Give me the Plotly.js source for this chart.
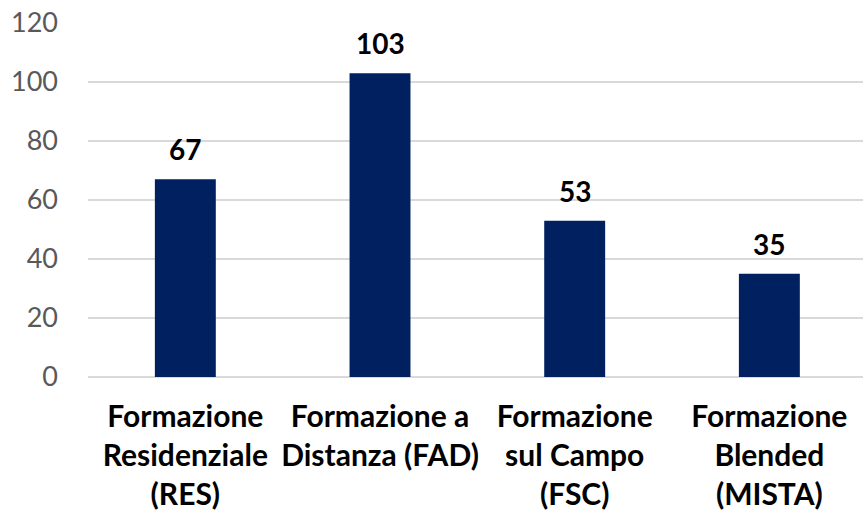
<!DOCTYPE html>
<html>
<head>
<meta charset="utf-8">
<script src="https://cdn.plot.ly/plotly-3.0.1.min.js"></script>
<style>html,body{margin:0;padding:0;background:#fff;}#chart{width:863px;height:512px;}</style>
</head>
<body>
<div id="chart"></div>
<script>
var categories = ["Formazione<br>Residenziale<br>(RES)", "Formazione a<br>Distanza (FAD)", "Formazione<br>sul Campo<br>(FSC)", "Formazione<br>Blended<br>(MISTA)"];
var values = [67, 103, 53, 35];
var yTicks = [0, 20, 40, 60, 80, 100, 120];
var xPos = [0, 1, 2, 3];

var trace = {
  type: 'bar',
  x: xPos,
  y: values,
  marker: {color: '#002060'},
  hoverinfo: 'none'
};

var annotations = values.map(function (v, i) {
  return {
    x: xPos[i], y: v, xref: 'x', yref: 'y',
    text: String(v), showarrow: false,
    xanchor: 'center', yanchor: 'bottom', yshift: 11,
    font: {family: 'Lato, sans-serif', size: 28, color: '#000', weight: 'bold'}
  };
});

var layout = {
  width: 863, height: 512,
  margin: {l: 88, r: 0, t: 23, b: 134.5},
  paper_bgcolor: '#fff', plot_bgcolor: '#fff',
  bargap: 0.687,
  showlegend: false,
  font: {family: 'Lato, sans-serif'},
  annotations: annotations,
  xaxis: {
    range: [-0.5, 3.481],
    tickvals: xPos,
    ticktext: categories,
    tickfont: {family: 'Lato, sans-serif', size: 30, color: '#000', weight: 'bold'},
    showgrid: false, zeroline: false, showline: false,
    ticks: '', ticklabelstandoff: 19
  },
  yaxis: {
    range: [0, 120],
    tickvals: yTicks,
    ticktext: yTicks.map(String),
    tickfont: {family: 'Lato, sans-serif', size: 27, color: '#595959'},
    showgrid: true, gridcolor: '#d9d9d9', gridwidth: 1.5,
    zeroline: true, zerolinecolor: '#d9d9d9', zerolinewidth: 1.5,
    showline: false, ticks: '', ticklabelstandoff: 29
  }
};

Plotly.newPlot('chart', [trace], layout, {displayModeBar: false, staticPlot: true});
</script>
</body>
</html>
